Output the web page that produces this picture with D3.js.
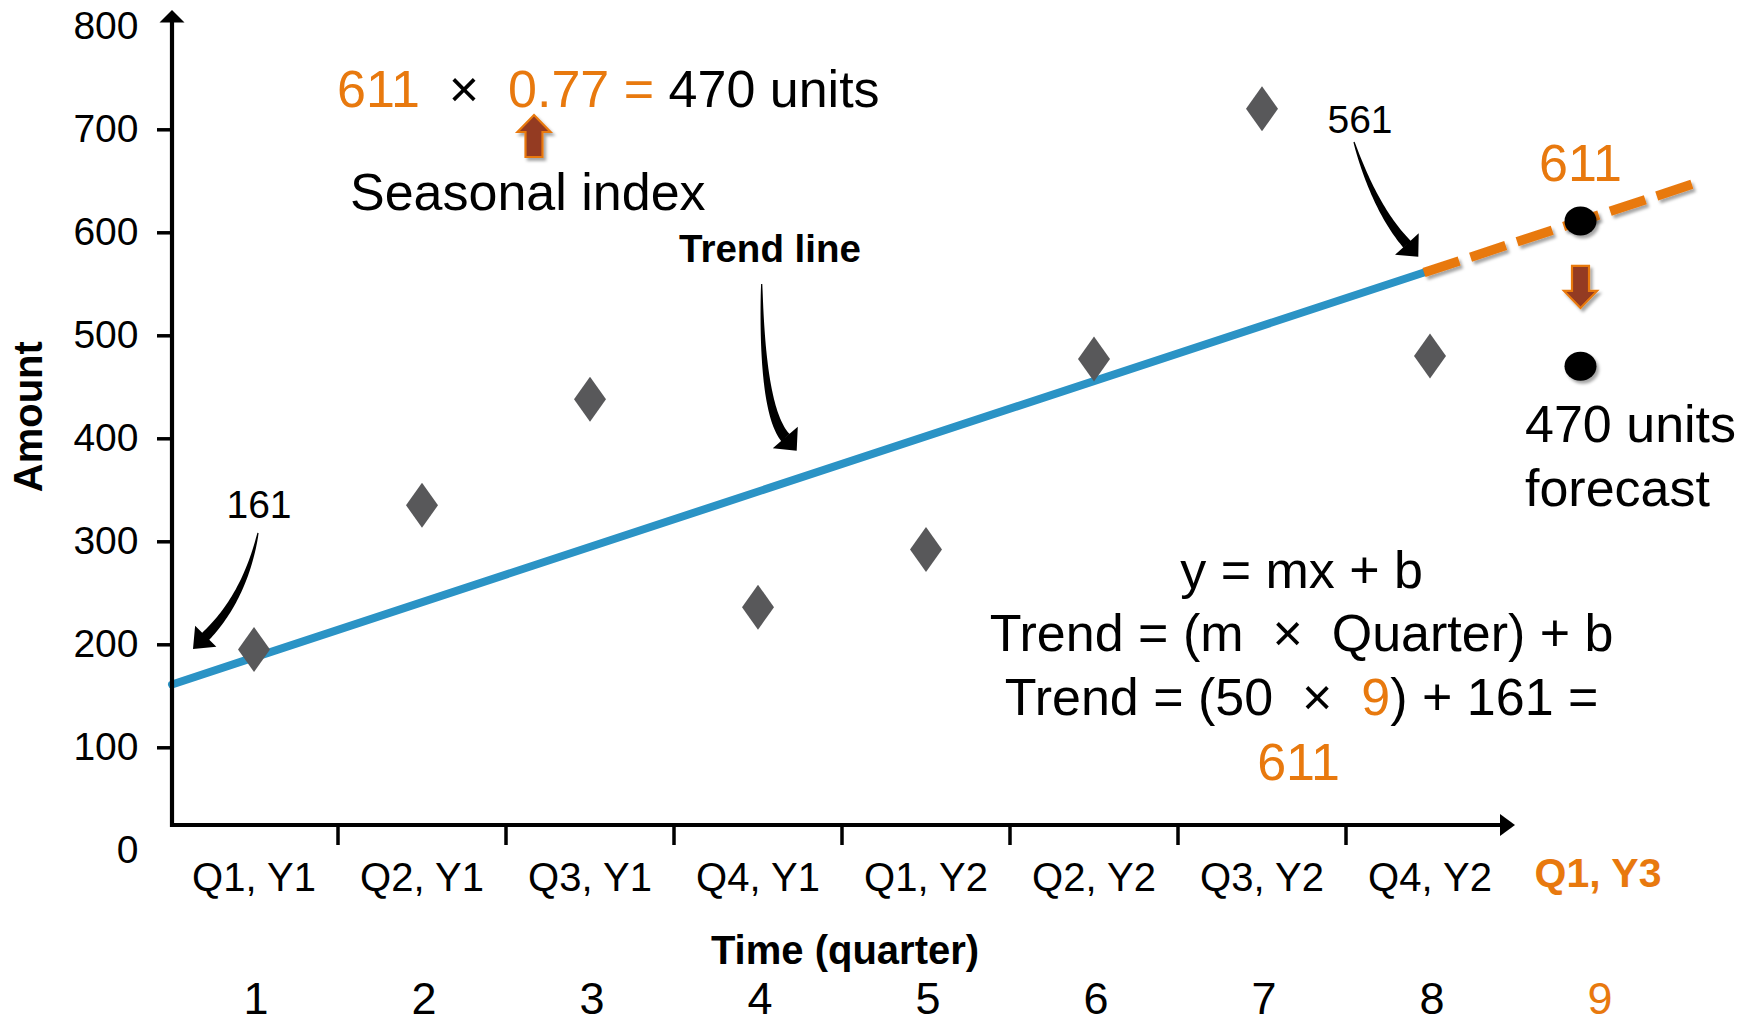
<!DOCTYPE html>
<html>
<head>
<meta charset="utf-8">
<script src="https://cdn.jsdelivr.net/npm/d3@7"></script>
<style>
  html, body { margin: 0; padding: 0; background: #ffffff; }
  svg { display: block; }
  text { font-family: "Liberation Sans", Arial, Helvetica, sans-serif; white-space: pre; }
</style>
</head>
<body>
<svg id="chart" width="1749" height="1024"></svg>
<script>
// ---- data ----
const quarterNumbers = [1, 2, 3, 4, 5, 6, 7, 8, 9];
const quarterLabels = ["Q1, Y1", "Q2, Y1", "Q3, Y1", "Q4, Y1", "Q1, Y2", "Q2, Y2", "Q3, Y2", "Q4, Y2", "Q1, Y3"];
const observedQuarters = [1, 2, 3, 4, 5, 6, 7, 8];
const amounts = [195, 335, 438, 236, 292, 477, 720, 480];
const yTickValues = [0, 100, 200, 300, 400, 500, 600, 700, 800];
const trendSlope = 50;       // m
const trendIntercept = 161;  // b
const seasonalIndex = 0.77;
const forecastQuarter = 9;
const lastObservedQuarter = 8;
const projectionEnd = 9.75;

const trend = q => trendIntercept + trendSlope * q;
const trendForecast = trend(forecastQuarter);                      // 611
const seasonalForecast = Math.round(trendForecast * seasonalIndex); // 470

// ---- palette ----
const ORANGE = "#e8790e";
const BLUE = "#2b93c5";
const DIAMOND = "#58585a";
const BROWN = "#943a20";

const svg = d3.select("#chart");

const defs = svg.append("defs");
defs.append("filter").attr("id", "shadow").attr("x", "-30%").attr("y", "-30%")
  .attr("width", "160%").attr("height", "160%")
  .append("feDropShadow").attr("dx", 2.5).attr("dy", 3).attr("stdDeviation", 1.6)
  .attr("flood-color", "#000").attr("flood-opacity", 0.35);

// ---- scales ----
const axisX = 172, axisY = 825;
const x = d3.scaleBand().domain(quarterNumbers).range([170, 1682]).padding(0);
const xc = q => x(q) + x.bandwidth() / 2;
const y = d3.scaleLinear().domain([0, 800]).range([850.3, 26.3]);
const xTrend = d3.scaleLinear().domain([0, lastObservedQuarter]).range([axisX, 1424]);

// ---- trend line (fitted part) ----
const line = d3.line().x(d => xTrend(d)).y(d => y(trend(d)));
svg.append("path")
  .attr("d", line([0, lastObservedQuarter]))
  .attr("fill", "none").attr("stroke", BLUE).attr("stroke-width", 8)
  .attr("stroke-linecap", "round");

// ---- projected trend (dashed) ----
svg.append("path")
  .attr("d", line([lastObservedQuarter, projectionEnd]))
  .attr("fill", "none").attr("stroke", ORANGE).attr("stroke-width", 9.5)
  .attr("stroke-dasharray", "37 12")
  .attr("filter", "url(#shadow)");

// ---- observed amounts (diamonds) ----
const diamondPath = (cx, cy, hw, hh) => {
  const p = d3.path();
  p.moveTo(cx, cy - hh); p.lineTo(cx + hw, cy); p.lineTo(cx, cy + hh); p.lineTo(cx - hw, cy); p.closePath();
  return p.toString();
};
svg.append("g").selectAll("path")
  .data(observedQuarters.map((q, i) => ({ q, v: amounts[i] })))
  .join("path")
  .attr("d", d => diamondPath(xc(d.q), y(d.v), 16, 22.5))
  .attr("fill", DIAMOND);

// ---- axes ----
const yAxis = svg.append("g")
  .attr("transform", `translate(${axisX},0)`)
  .call(d3.axisLeft(y).tickValues(yTickValues).tickSize(15).tickPadding(18.5));
yAxis.select(".domain").remove();
yAxis.selectAll(".tick line")
  .attr("stroke", "#000").attr("stroke-width", 3.5)
  .attr("display", d => (d === 0 || d === 800) ? "none" : null);
yAxis.selectAll(".tick text")
  .attr("font-size", 39).attr("fill", "#000")
  .style("font-family", "'Liberation Sans', Arial, sans-serif");

// axis lines with arrow heads
svg.append("path")
  .attr("d", `M${axisX},${axisY + 2} V${y(800) - 6} M${axisX},${axisY} H1502`)
  .attr("fill", "none").attr("stroke", "#000").attr("stroke-width", 4.2);
svg.append("path")
  .attr("d", `M${axisX},10 L${axisX + 12.5},22.5 L${axisX - 12.5},22.5 Z`)
  .attr("fill", "#000");
svg.append("path")
  .attr("d", `M1515,${axisY} L1500,${axisY - 11} L1500,${axisY + 11} Z`)
  .attr("fill", "#000");

// x ticks at the boundaries between quarters
svg.append("g").selectAll("line")
  .data(quarterNumbers.slice(1, 8))
  .join("line")
  .attr("x1", d => x(d)).attr("x2", d => x(d))
  .attr("y1", axisY).attr("y2", axisY + 20)
  .attr("stroke", "#000").attr("stroke-width", 3.5);

// quarter labels
const xLabels = svg.append("g")
  .attr("transform", "translate(0,891)")
  .call(d3.axisBottom(x).tickSize(0).tickPadding(0).tickFormat(q => quarterLabels[q - 1]));
xLabels.select(".domain").remove();
xLabels.selectAll(".tick text")
  .attr("y", d => d === forecastQuarter ? -4 : 0).attr("dy", null)
  .attr("font-size", d => d === forecastQuarter ? 41 : 40)
  .attr("font-weight", d => d === forecastQuarter ? "bold" : "normal")
  .attr("fill", d => d === forecastQuarter ? ORANGE : "#000")
  .style("font-family", "'Liberation Sans', Arial, sans-serif");

// quarter numbers
const xNums = svg.append("g")
  .attr("transform", "translate(2,1014)")
  .call(d3.axisBottom(x).tickSize(0).tickPadding(0).tickFormat(d => d));
xNums.select(".domain").remove();
xNums.selectAll(".tick text")
  .attr("y", 0).attr("dy", null)
  .attr("font-size", 45)
  .attr("fill", d => d === forecastQuarter ? ORANGE : "#000")
  .style("font-family", "'Liberation Sans', Arial, sans-serif");

// axis titles
svg.append("text")
  .attr("transform", "translate(41.7,416.7) rotate(-90)")
  .attr("text-anchor", "middle").attr("font-size", 40).attr("font-weight", "bold")
  .text("Amount");
svg.append("text")
  .attr("x", 845).attr("y", 964)
  .attr("text-anchor", "middle").attr("font-size", 40).attr("font-weight", "bold")
  .text("Time (quarter)");

// ---- curved callout arrows ----
function taperedArrow(T, C, P, headLen, headW, w0, w1) {
  const dx = P[0] - C[0], dy = P[1] - C[1], len = Math.hypot(dx, dy);
  const ux = dx / len, uy = dy / len;
  const B = [P[0] - ux * headLen, P[1] - uy * headLen];
  const left = [], right = [];
  const N = 40;
  for (let i = 0; i <= N; i++) {
    const t = i / N, mt = 1 - t;
    const px = mt * mt * T[0] + 2 * mt * t * C[0] + t * t * B[0];
    const py = mt * mt * T[1] + 2 * mt * t * C[1] + t * t * B[1];
    let tx = 2 * mt * (C[0] - T[0]) + 2 * t * (B[0] - C[0]);
    let ty = 2 * mt * (C[1] - T[1]) + 2 * t * (B[1] - C[1]);
    const tl = Math.hypot(tx, ty); tx /= tl; ty /= tl;
    const w = (w0 + (w1 - w0) * Math.pow(t, 0.8)) / 2;
    left.push([px - ty * w, py + tx * w]);
    right.push([px + ty * w, py - tx * w]);
  }
  const nx = -uy, ny = ux;
  const pts = left.concat([
    [B[0] - nx * headW / 2, B[1] - ny * headW / 2],
    P,
    [B[0] + nx * headW / 2, B[1] + ny * headW / 2]
  ]).concat(right.reverse());
  return d3.line()(pts) + "Z";
}
const offset = (a, o) => [a[0] + o[0], a[1] + o[1]];

// intercept callout
const startPt = [xTrend(0), y(trend(0))];
svg.append("path")
  .attr("d", taperedArrow(offset(startPt, [86, -151.5]), offset(startPt, [73, -87.5]), offset(startPt, [21, -35.5]), 18, 30, 1.2, 10))
  .attr("fill", "#000");
svg.append("text")
  .attr("x", startPt[0] + 87).attr("y", startPt[1] - 166.5)
  .attr("text-anchor", "middle").attr("font-size", 39)
  .text(String(trend(0)));

// trend line callout
const midPt = [xTrend(4), y(trend(4))];
svg.append("path")
  .attr("d", taperedArrow(offset(midPt, [-36.3, -194.5]), offset(midPt, [-36.3, -68.5]), offset(midPt, [-1.3, -27.8]), 17.5, 33, 1.2, 11))
  .attr("fill", "#000");
svg.append("text")
  .attr("x", midPt[0] - 28).attr("y", midPt[1] - 216.8)
  .attr("text-anchor", "middle").attr("font-size", 38.5).attr("font-weight", "bold")
  .text("Trend line");

// end-of-fit callout
const endPt = [xTrend(lastObservedQuarter), y(trend(lastObservedQuarter))];
svg.append("path")
  .attr("d", taperedArrow(offset(endPt, [-70, -130.5]), offset(endPt, [-49, -63.5]), offset(endPt, [-5.7, -15.8]), 17, 32, 1.2, 10))
  .attr("fill", "#000");
svg.append("text")
  .attr("x", endPt[0] - 64).attr("y", endPt[1] - 139.5)
  .attr("text-anchor", "middle").attr("font-size", 39)
  .text(String(trend(lastObservedQuarter)));

// ---- forecast column ----
const fx = xTrend(forecastQuarter);
const fyTrend = y(trendForecast);
const fySeasonal = y(seasonalForecast);

svg.append("text")
  .attr("x", fx).attr("y", fyTrend - 40)
  .attr("text-anchor", "middle").attr("font-size", 52).attr("fill", ORANGE)
  .text(String(trendForecast));

// block arrow (down / up)
function blockArrow(cx, top, h, dir) {
  const shaftW = 17, headW = 33, headL = 17;
  const p = d3.path();
  if (dir === "down") {
    const hb = top + h - headL;
    p.moveTo(cx - shaftW / 2, top); p.lineTo(cx + shaftW / 2, top); p.lineTo(cx + shaftW / 2, hb);
    p.lineTo(cx + headW / 2, hb); p.lineTo(cx, top + h); p.lineTo(cx - headW / 2, hb);
    p.lineTo(cx - shaftW / 2, hb); p.closePath();
  } else {
    const hb = top + headL;
    p.moveTo(cx, top); p.lineTo(cx + headW / 2, hb); p.lineTo(cx + shaftW / 2, hb);
    p.lineTo(cx + shaftW / 2, top + h); p.lineTo(cx - shaftW / 2, top + h);
    p.lineTo(cx - shaftW / 2, hb); p.lineTo(cx - headW / 2, hb); p.closePath();
  }
  return p.toString();
}
svg.append("path")
  .attr("d", blockArrow(fx, fyTrend + 45, 42, "down"))
  .attr("fill", BROWN).attr("stroke", ORANGE).attr("stroke-width", 2.2)
  .attr("stroke-linejoin", "miter").attr("filter", "url(#shadow)");

svg.append("g").selectAll("ellipse")
  .data([trendForecast, seasonalForecast])
  .join("ellipse")
  .attr("cx", fx).attr("cy", d => y(d))
  .attr("rx", 16).attr("ry", 14.5)
  .attr("fill", "#000").attr("filter", "url(#shadow)");

const fcText = svg.append("text").attr("font-size", 52).attr("x", 1525).attr("y", 442);
fcText.append("tspan").attr("x", 1525).attr("y", 442).text(`${seasonalForecast} units`);
fcText.append("tspan").attr("x", 1525).attr("y", 506).text("forecast");

// ---- seasonal formula (top) ----
const topFormula = svg.append("text").attr("x", 337).attr("y", 106.7).attr("font-size", 52);
topFormula.append("tspan").attr("fill", ORANGE).text(String(trendForecast));
topFormula.append("tspan").attr("fill", "#000").text("  \u00d7  ");
topFormula.append("tspan").attr("fill", ORANGE).text(`${seasonalIndex} =`);
topFormula.append("tspan").attr("fill", "#000").text(` ${seasonalForecast} units`);

svg.append("path")
  .attr("d", blockArrow(534, 115, 42, "up"))
  .attr("fill", BROWN).attr("stroke", ORANGE).attr("stroke-width", 2.2)
  .attr("filter", "url(#shadow)");

svg.append("text")
  .attr("x", 350).attr("y", 210).attr("font-size", 52)
  .text("Seasonal index");

// ---- trend equation block ----
const eqX = 1301.6;
svg.append("text").attr("x", eqX).attr("y", 588.3).attr("text-anchor", "middle").attr("font-size", 52)
  .text("y = mx + b");
svg.append("text").attr("x", eqX).attr("y", 650.7).attr("text-anchor", "middle").attr("font-size", 52)
  .text("Trend = (m  \u00d7  Quarter) + b");
const eq3 = svg.append("text").attr("x", eqX).attr("y", 715).attr("text-anchor", "middle").attr("font-size", 52);
eq3.append("tspan").text(`Trend = (${trendSlope}  \u00d7  `);
eq3.append("tspan").attr("fill", ORANGE).text(String(forecastQuarter));
eq3.append("tspan").text(`) + ${trendIntercept} =`);
svg.append("text").attr("x", eqX - 3).attr("y", 780).attr("text-anchor", "middle").attr("font-size", 52)
  .attr("fill", ORANGE).text(String(trendForecast));
</script>
</body>
</html>
